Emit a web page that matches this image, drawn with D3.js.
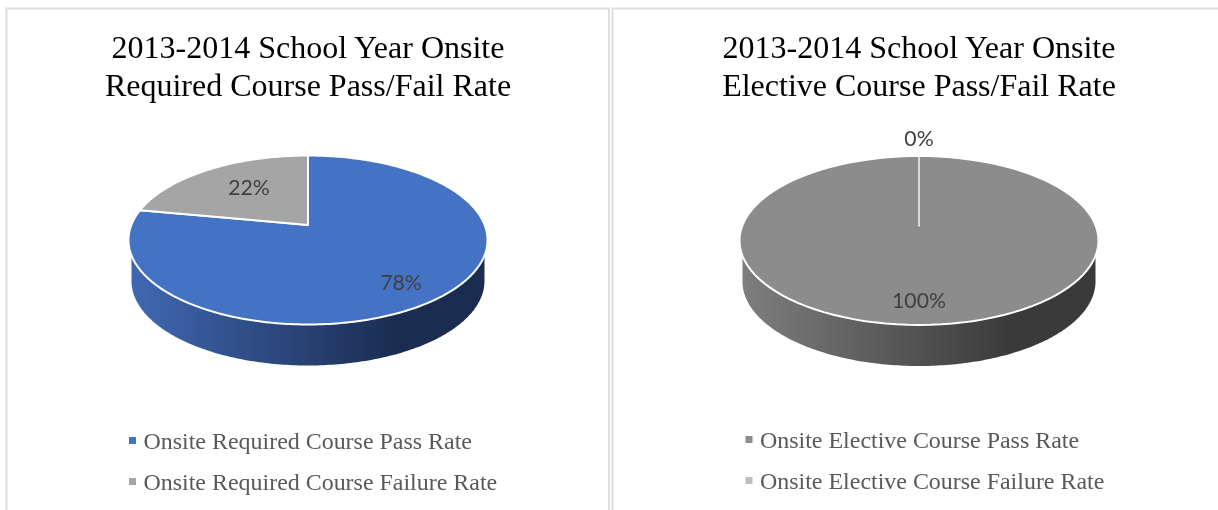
<!DOCTYPE html>
<html>
<head>
<meta charset="utf-8">
<script src="https://cdnjs.cloudflare.com/ajax/libs/d3/7.8.5/d3.min.js"></script>
<style>
html,body{margin:0;padding:0;background:#fff;overflow:hidden}
svg{display:block;filter:blur(0.35px)}
</style>
</head>
<body>
<svg id="chart" width="1218" height="510"></svg>
<script>
const leftTitle = ["2013-2014 School Year Onsite", "Required Course Pass/Fail Rate"];
const leftCategories = ["Onsite Required Course Pass Rate", "Onsite Required Course Failure Rate"];
const leftValues = [78, 22];
const leftColors = ["#4472c4", "#a5a5a5"];
const leftWall = ["#4068b2", "#1a2c50"];

const rightTitle = ["2013-2014 School Year Onsite", "Elective Course Pass/Fail Rate"];
const rightCategories = ["Onsite Elective Course Pass Rate", "Onsite Elective Course Failure Rate"];
const rightValues = [100, 0];
const rightColors = ["#8c8c8c", "#bfbfbf"];
const rightWall = ["#7e7e7e", "#3a3a3a"];

const svg = d3.select("#chart");
const defs = svg.append("defs");
const serif = "'Liberation Serif','Times New Roman',serif";
const sans = "Lato,'Open Sans',sans-serif";

// panel frames
const frame = "#dedede";
[[6.5,8.5,602.5],[612.5,8.5,640]].forEach(([x,y,w])=>{
  svg.append("path")
    .attr("d",`M${x},520V${y}H${x+w}V520`)
    .attr("fill","#fff").attr("stroke",frame).attr("stroke-width",2);
});

function drawPie(o){
  const g = svg.append("g");
  const rx = 179.5, ry = 84.5, depth = 41;
  const k = 15 / ry;                       // perspective: apex sits above the ellipse centre
  const a = rx * Math.sqrt(1 - k * k);
  const sx = d3.scaleLinear().domain([-1,1]).range([o.cx - a, o.cx + a]);
  const sy = d3.scaleLinear().domain([-1,1]).range([o.cy + ry, o.cy - ry]);
  const project = t => {
    const X = Math.sin(t), Y = Math.cos(t), d = 1 + k * Y;
    return [o.cx + (sx(X) - o.cx) / d, o.cy + (sy(Y) - o.cy - 15) / d];
  };
  const line = d3.line();
  const arcs = d3.pie().sort(null)(o.values);

  // side wall
  const gid = "wall" + o.id;
  const grad = defs.append("linearGradient").attr("id",gid)
    .attr("gradientUnits","userSpaceOnUse")
    .attr("x1",o.cx-177).attr("x2",o.cx+177).attr("y1",0).attr("y2",0);
  grad.append("stop").attr("offset","0").attr("stop-color",o.wall[0]);
  grad.append("stop").attr("offset","0.76").attr("stop-color",o.wall[1]);
  grad.append("stop").attr("offset","1").attr("stop-color",o.wall[1]);
  const wallRx = 176.5;
  const wallPts = d3.range(-90, 90.5, 1).map(d=>{
    const t = d * Math.PI / 180;
    return [o.cx + wallRx * Math.sin(t), o.cy + depth + ry * Math.cos(t)];
  });
  const area = d3.area().x(p=>p[0]).y0(o.cy).y1(p=>p[1]);
  g.append("path").attr("d",area(wallPts)).attr("fill",`url(#${gid})`);

  // slices
  g.selectAll("path.slice").data(arcs).join("path")
    .attr("class","slice")
    .attr("fill",(d,i)=>o.colors[i])
    .attr("stroke","#fff").attr("stroke-width",2).attr("stroke-linejoin","round")
    .attr("d",d=>{
      const n = Math.max(1, Math.ceil((d.endAngle - d.startAngle) * 60));
      const pts = d3.range(n + 1).map(i => project(d.startAngle + (d.endAngle - d.startAngle) * i / n));
      return line([[o.cx, o.cy - 15], ...pts]) + "Z";
    });

  // zero-value slice boundary is lighter in the right-hand pie
  if (o.values.includes(0)) {
    g.append("line")
      .attr("x1",o.cx).attr("x2",o.cx).attr("y1",o.cy-ry).attr("y2",o.cy-15)
      .attr("stroke","#d4d4d4").attr("stroke-width",1.8);
    g.append("path")
      .attr("d",line(d3.range(0,361,3).map(d=>project(d*Math.PI/180))))
      .attr("fill","none").attr("stroke","#fff").attr("stroke-width",2);
    g.select("path.slice").attr("stroke","none");
  }

  // data labels
  g.selectAll("text.lab").data(o.values).join("text")
    .attr("class","lab")
    .attr("x",(d,i)=>o.labelPos[i][0]).attr("y",(d,i)=>o.labelPos[i][1])
    .attr("text-anchor","middle").attr("dominant-baseline","central")
    .attr("font-family",sans).attr("font-size",21.2).attr("fill","#404040")
    .text(d=>d+"%");

  // title
  g.selectAll("text.title").data(o.title).join("text")
    .attr("class","title")
    .attr("x",o.cx).attr("y",(d,i)=>58+i*37.5)
    .attr("text-anchor","middle")
    .attr("font-family",serif).attr("font-size",32).attr("fill","#000")
    .text(d=>d);

  // legend
  const lg = g.selectAll("g.leg").data(o.categories).join("g").attr("class","leg")
    .attr("transform",(d,i)=>`translate(${o.legendX},${o.legendY+i*41})`);
  lg.append("rect").attr("x",0).attr("y",-4).attr("width",7).attr("height",7)
    .attr("fill",(d,i)=>o.colors[i]);
  lg.append("text").attr("x",14.5).attr("y",0).attr("dy","0.32em")
    .attr("font-family",serif).attr("font-size",23.95).attr("fill","#595959")
    .text(d=>d);
}

drawPie({id:"L",cx:308,cy:240,title:leftTitle,categories:leftCategories,values:leftValues,
  colors:leftColors,wall:leftWall,labelPos:[[401,282],[249,187]],legendX:129,legendY:441});
drawPie({id:"R",cx:919,cy:240.5,title:rightTitle,categories:rightCategories,values:rightValues,
  colors:rightColors,wall:rightWall,labelPos:[[919,300],[919,138]],legendX:745.5,legendY:440});
</script>
</body>
</html>
